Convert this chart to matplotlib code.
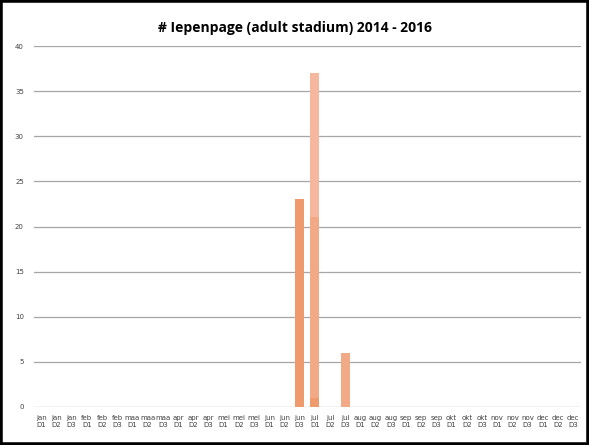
import numpy as np
import matplotlib.pyplot as plt
from matplotlib.patches import Rectangle

months = ['jan', 'feb', 'maa', 'apr', 'mei', 'jun', 'jul', 'aug', 'sep', 'okt', 'nov', 'dec']
decades = ['D1', 'D2', 'D3']
labels = [m + '\n' + d for m in months for d in decades]
n = len(labels)

# one value per decade, per year
y2014 = [0]*36
y2015 = [0]*36
y2016 = [0]*36
y2014[17] = 23
y2014[18] = 1
y2015[18] = 20
y2015[20] = 6
y2016[18] = 16

colors = ['#EE9A6C', '#F2AA86', '#F5B89F']

fig = plt.figure(figsize=(5.89, 4.45), dpi=100)
ax = fig.add_axes([0.057, 0.0854, 0.929, 0.8112])

x = np.arange(n)
b = np.zeros(n)
for vals, c in zip([y2014, y2015, y2016], colors):
    ax.bar(x, vals, width=0.6, bottom=b, color=c, zorder=3)
    b += np.array(vals)

ax.set_xlim(-0.5, n - 0.5)
ax.set_ylim(0, 40)
ax.set_yticks(range(0, 41, 5))
ax.yaxis.grid(True, color='#A6A6A6', lw=0.9, zorder=0)
ax.set_xticks(x)
ax.set_xticklabels(labels, fontsize=5, color='#404040', linespacing=1.1)
ax.tick_params(axis='y', labelsize=5, colors='#404040', length=0, pad=7)
ax.tick_params(axis='x', length=0, pad=6)
for s in ax.spines.values():
    s.set_visible(False)

fig.text(0.5, 0.937, '# Iepenpage (adult stadium) 2014 - 2016', ha='center', va='center',
         fontsize=10, fontweight='bold', family='Open Sans')

fig.patches.append(Rectangle((0, 0), 1, 1, transform=fig.transFigure, fill=False,
                             edgecolor='black', lw=4))

fig.savefig('out.png', dpi=100)
